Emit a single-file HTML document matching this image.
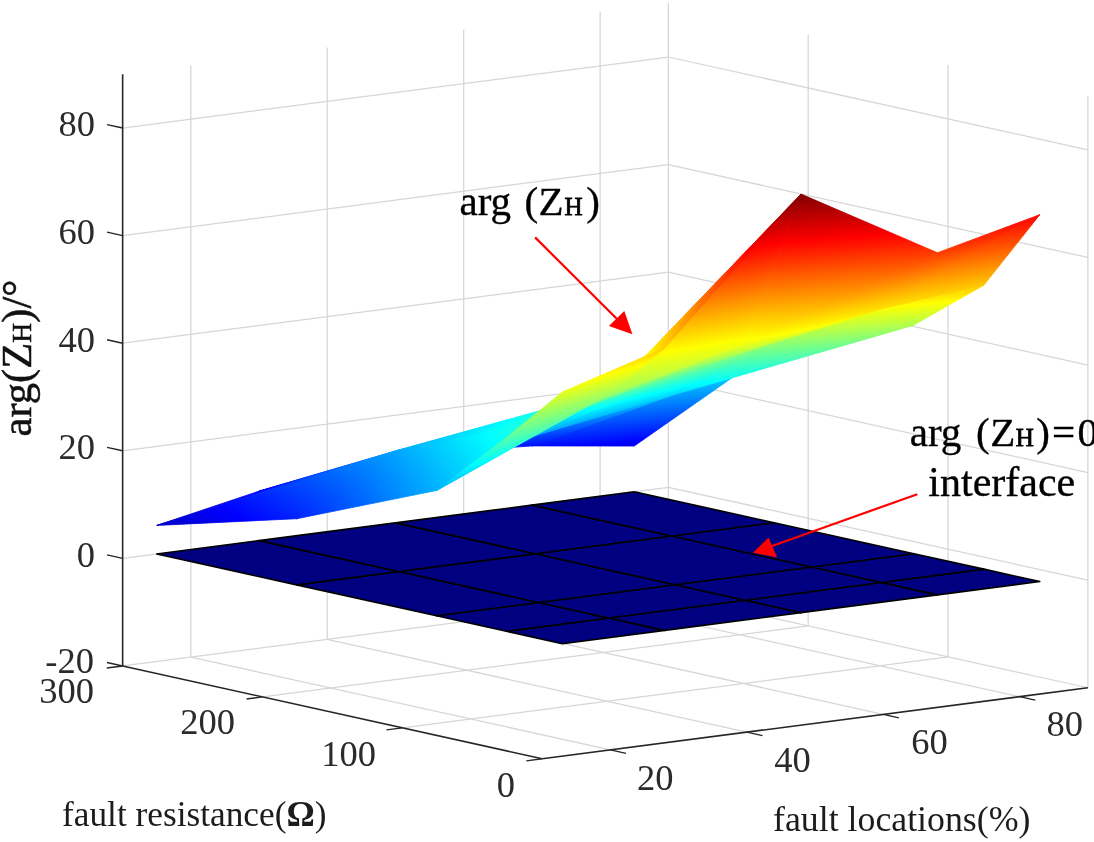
<!DOCTYPE html>
<html><head><meta charset="utf-8"><title>arg(ZH) surface</title>
<style>
html,body{margin:0;padding:0;background:#fff;}
body{width:1094px;height:842px;overflow:hidden;font-family:"Liberation Serif",serif;}
svg{display:block;}
text{font-family:"Liberation Serif",serif;}
</style></head><body>
<svg width="1094" height="842" viewBox="0 0 1094 842">
<rect width="1094" height="842" fill="#fff"/>
<defs><linearGradient id="g1" gradientUnits="userSpaceOnUse" x1="784" y1="463.56" x2="760.17" y2="187.13"><stop offset="0" stop-color="#000080"/><stop offset="0.125" stop-color="#0000ff"/><stop offset="0.375" stop-color="#00ffff"/><stop offset="0.625" stop-color="#ffff00"/><stop offset="0.875" stop-color="#ff0000"/><stop offset="1" stop-color="#800000"/></linearGradient><linearGradient id="g2" gradientUnits="userSpaceOnUse" x1="649.95" y1="357.05" x2="714.72" y2="470.08"><stop offset="0" stop-color="#000080"/><stop offset="0.125" stop-color="#0000ff"/><stop offset="0.375" stop-color="#00ffff"/><stop offset="0.625" stop-color="#ffff00"/><stop offset="0.875" stop-color="#ff0000"/><stop offset="1" stop-color="#800000"/></linearGradient><linearGradient id="g3" gradientUnits="userSpaceOnUse" x1="677.96" y1="458.49" x2="659.54" y2="270.29"><stop offset="0" stop-color="#000080"/><stop offset="0.125" stop-color="#0000ff"/><stop offset="0.375" stop-color="#00ffff"/><stop offset="0.625" stop-color="#ffff00"/><stop offset="0.875" stop-color="#ff0000"/><stop offset="1" stop-color="#800000"/></linearGradient><linearGradient id="g4" gradientUnits="userSpaceOnUse" x1="503.18" y1="359.16" x2="616.92" y2="628.98"><stop offset="0" stop-color="#000080"/><stop offset="0.125" stop-color="#0000ff"/><stop offset="0.375" stop-color="#00ffff"/><stop offset="0.625" stop-color="#ffff00"/><stop offset="0.875" stop-color="#ff0000"/><stop offset="1" stop-color="#800000"/></linearGradient><linearGradient id="g5" gradientUnits="userSpaceOnUse" x1="518.18" y1="382.58" x2="578.88" y2="569.59"><stop offset="0" stop-color="#000080"/><stop offset="0.125" stop-color="#0000ff"/><stop offset="0.375" stop-color="#00ffff"/><stop offset="0.625" stop-color="#ffff00"/><stop offset="0.875" stop-color="#ff0000"/><stop offset="1" stop-color="#800000"/></linearGradient><linearGradient id="g6" gradientUnits="userSpaceOnUse" x1="403.71" y1="491.74" x2="387.22" y2="348.03"><stop offset="0" stop-color="#000080"/><stop offset="0.125" stop-color="#0000ff"/><stop offset="0.375" stop-color="#00ffff"/><stop offset="0.625" stop-color="#ffff00"/><stop offset="0.875" stop-color="#ff0000"/><stop offset="1" stop-color="#800000"/></linearGradient><linearGradient id="g7" gradientUnits="userSpaceOnUse" x1="393.76" y1="435.75" x2="411.52" y2="484.78"><stop offset="0" stop-color="#000080"/><stop offset="0.125" stop-color="#0000ff"/><stop offset="0.375" stop-color="#00ffff"/><stop offset="0.625" stop-color="#ffff00"/><stop offset="0.875" stop-color="#ff0000"/><stop offset="1" stop-color="#800000"/></linearGradient><linearGradient id="g8" gradientUnits="userSpaceOnUse" x1="231.46" y1="633.23" x2="643.53" y2="-91.1"><stop offset="0" stop-color="#000080"/><stop offset="0.125" stop-color="#0000ff"/><stop offset="0.375" stop-color="#00ffff"/><stop offset="0.625" stop-color="#ffff00"/><stop offset="0.875" stop-color="#ff0000"/><stop offset="1" stop-color="#800000"/></linearGradient><linearGradient id="g9" gradientUnits="userSpaceOnUse" x1="486.52" y1="107.3" x2="1268.92" y2="505.93"><stop offset="0" stop-color="#000080"/><stop offset="0.125" stop-color="#0000ff"/><stop offset="0.375" stop-color="#00ffff"/><stop offset="0.625" stop-color="#ffff00"/><stop offset="0.875" stop-color="#ff0000"/><stop offset="1" stop-color="#800000"/></linearGradient><linearGradient id="g10" gradientUnits="userSpaceOnUse" x1="822.86" y1="462.99" x2="803.24" y2="225.92"><stop offset="0" stop-color="#000080"/><stop offset="0.125" stop-color="#0000ff"/><stop offset="0.375" stop-color="#00ffff"/><stop offset="0.625" stop-color="#ffff00"/><stop offset="0.875" stop-color="#ff0000"/><stop offset="1" stop-color="#800000"/></linearGradient><linearGradient id="g11" gradientUnits="userSpaceOnUse" x1="830.58" y1="406.93" x2="797.49" y2="267.65"><stop offset="0" stop-color="#000080"/><stop offset="0.125" stop-color="#0000ff"/><stop offset="0.375" stop-color="#00ffff"/><stop offset="0.625" stop-color="#ffff00"/><stop offset="0.875" stop-color="#ff0000"/><stop offset="1" stop-color="#800000"/></linearGradient><linearGradient id="g12" gradientUnits="userSpaceOnUse" x1="688.23" y1="418.16" x2="662.41" y2="329.47"><stop offset="0" stop-color="#000080"/><stop offset="0.125" stop-color="#0000ff"/><stop offset="0.375" stop-color="#00ffff"/><stop offset="0.625" stop-color="#ffff00"/><stop offset="0.875" stop-color="#ff0000"/><stop offset="1" stop-color="#800000"/></linearGradient><linearGradient id="g13" gradientUnits="userSpaceOnUse" x1="687.25" y1="475.49" x2="663.37" y2="273.3"><stop offset="0" stop-color="#000080"/><stop offset="0.125" stop-color="#0000ff"/><stop offset="0.375" stop-color="#00ffff"/><stop offset="0.625" stop-color="#ffff00"/><stop offset="0.875" stop-color="#ff0000"/><stop offset="1" stop-color="#800000"/></linearGradient><linearGradient id="g14" gradientUnits="userSpaceOnUse" x1="428.49" y1="268.83" x2="688.48" y2="637.02"><stop offset="0" stop-color="#000080"/><stop offset="0.125" stop-color="#0000ff"/><stop offset="0.375" stop-color="#00ffff"/><stop offset="0.625" stop-color="#ffff00"/><stop offset="0.875" stop-color="#ff0000"/><stop offset="1" stop-color="#800000"/></linearGradient><linearGradient id="g15" gradientUnits="userSpaceOnUse" x1="235.31" y1="674.76" x2="950.75" y2="85.94"><stop offset="0" stop-color="#000080"/><stop offset="0.125" stop-color="#0000ff"/><stop offset="0.375" stop-color="#00ffff"/><stop offset="0.625" stop-color="#ffff00"/><stop offset="0.875" stop-color="#ff0000"/><stop offset="1" stop-color="#800000"/></linearGradient><linearGradient id="g16" gradientUnits="userSpaceOnUse" x1="178.36" y1="624" x2="1040.14" y2="178.23"><stop offset="0" stop-color="#000080"/><stop offset="0.125" stop-color="#0000ff"/><stop offset="0.375" stop-color="#00ffff"/><stop offset="0.625" stop-color="#ffff00"/><stop offset="0.875" stop-color="#ff0000"/><stop offset="1" stop-color="#800000"/></linearGradient><linearGradient id="g17" gradientUnits="userSpaceOnUse" x1="998.86" y1="457.25" x2="976.74" y2="203.64"><stop offset="0" stop-color="#000080"/><stop offset="0.125" stop-color="#0000ff"/><stop offset="0.375" stop-color="#00ffff"/><stop offset="0.625" stop-color="#ffff00"/><stop offset="0.875" stop-color="#ff0000"/><stop offset="1" stop-color="#800000"/></linearGradient><linearGradient id="g18" gradientUnits="userSpaceOnUse" x1="886.53" y1="331.23" x2="878.9" y2="296.76"><stop offset="0" stop-color="#000080"/><stop offset="0.125" stop-color="#0000ff"/><stop offset="0.375" stop-color="#00ffff"/><stop offset="0.625" stop-color="#ffff00"/><stop offset="0.875" stop-color="#ff0000"/><stop offset="1" stop-color="#800000"/></linearGradient><linearGradient id="g19" gradientUnits="userSpaceOnUse" x1="855.72" y1="243.58" x2="895.18" y2="343.07"><stop offset="0" stop-color="#000080"/><stop offset="0.125" stop-color="#0000ff"/><stop offset="0.375" stop-color="#00ffff"/><stop offset="0.625" stop-color="#ffff00"/><stop offset="0.875" stop-color="#ff0000"/><stop offset="1" stop-color="#800000"/></linearGradient><linearGradient id="g20" gradientUnits="userSpaceOnUse" x1="762.24" y1="423.1" x2="734.31" y2="293.51"><stop offset="0" stop-color="#000080"/><stop offset="0.125" stop-color="#0000ff"/><stop offset="0.375" stop-color="#00ffff"/><stop offset="0.625" stop-color="#ffff00"/><stop offset="0.875" stop-color="#ff0000"/><stop offset="1" stop-color="#800000"/></linearGradient><linearGradient id="g21" gradientUnits="userSpaceOnUse" x1="754.42" y1="370.24" x2="739.25" y2="326.86"><stop offset="0" stop-color="#000080"/><stop offset="0.125" stop-color="#0000ff"/><stop offset="0.375" stop-color="#00ffff"/><stop offset="0.625" stop-color="#ffff00"/><stop offset="0.875" stop-color="#ff0000"/><stop offset="1" stop-color="#800000"/></linearGradient><linearGradient id="g22" gradientUnits="userSpaceOnUse" x1="619.72" y1="427.53" x2="599.1" y2="365.23"><stop offset="0" stop-color="#000080"/><stop offset="0.125" stop-color="#0000ff"/><stop offset="0.375" stop-color="#00ffff"/><stop offset="0.625" stop-color="#ffff00"/><stop offset="0.875" stop-color="#ff0000"/><stop offset="1" stop-color="#800000"/></linearGradient><linearGradient id="g23" gradientUnits="userSpaceOnUse" x1="466.46" y1="285.86" x2="732.46" y2="488.52"><stop offset="0" stop-color="#000080"/><stop offset="0.125" stop-color="#0000ff"/><stop offset="0.375" stop-color="#00ffff"/><stop offset="0.625" stop-color="#ffff00"/><stop offset="0.875" stop-color="#ff0000"/><stop offset="1" stop-color="#800000"/></linearGradient><linearGradient id="g24" gradientUnits="userSpaceOnUse" x1="530.9" y1="524.67" x2="477.91" y2="336.63"><stop offset="0" stop-color="#000080"/><stop offset="0.125" stop-color="#0000ff"/><stop offset="0.375" stop-color="#00ffff"/><stop offset="0.625" stop-color="#ffff00"/><stop offset="0.875" stop-color="#ff0000"/><stop offset="1" stop-color="#800000"/></linearGradient><linearGradient id="g25" gradientUnits="userSpaceOnUse" x1="1081.34" y1="481.68" x2="1033.94" y2="177.09"><stop offset="0" stop-color="#000080"/><stop offset="0.125" stop-color="#0000ff"/><stop offset="0.375" stop-color="#00ffff"/><stop offset="0.625" stop-color="#ffff00"/><stop offset="0.875" stop-color="#ff0000"/><stop offset="1" stop-color="#800000"/></linearGradient><linearGradient id="g26" gradientUnits="userSpaceOnUse" x1="982.92" y1="462.2" x2="927.33" y2="205.97"><stop offset="0" stop-color="#000080"/><stop offset="0.125" stop-color="#0000ff"/><stop offset="0.375" stop-color="#00ffff"/><stop offset="0.625" stop-color="#ffff00"/><stop offset="0.875" stop-color="#ff0000"/><stop offset="1" stop-color="#800000"/></linearGradient><linearGradient id="g27" gradientUnits="userSpaceOnUse" x1="976" y1="478.45" x2="928.87" y2="202.35"><stop offset="0" stop-color="#000080"/><stop offset="0.125" stop-color="#0000ff"/><stop offset="0.375" stop-color="#00ffff"/><stop offset="0.625" stop-color="#ffff00"/><stop offset="0.875" stop-color="#ff0000"/><stop offset="1" stop-color="#800000"/></linearGradient><linearGradient id="g28" gradientUnits="userSpaceOnUse" x1="828.43" y1="568.02" x2="801.05" y2="194.12"><stop offset="0" stop-color="#000080"/><stop offset="0.125" stop-color="#0000ff"/><stop offset="0.375" stop-color="#00ffff"/><stop offset="0.625" stop-color="#ffff00"/><stop offset="0.875" stop-color="#ff0000"/><stop offset="1" stop-color="#800000"/></linearGradient><linearGradient id="g29" gradientUnits="userSpaceOnUse" x1="858.38" y1="547.89" x2="801.05" y2="194.12"><stop offset="0" stop-color="#000080"/><stop offset="0.125" stop-color="#0000ff"/><stop offset="0.375" stop-color="#00ffff"/><stop offset="0.625" stop-color="#ffff00"/><stop offset="0.875" stop-color="#ff0000"/><stop offset="1" stop-color="#800000"/></linearGradient><linearGradient id="g30" gradientUnits="userSpaceOnUse" x1="431.38" y1="314.97" x2="777.04" y2="363.87"><stop offset="0" stop-color="#000080"/><stop offset="0.125" stop-color="#0000ff"/><stop offset="0.375" stop-color="#00ffff"/><stop offset="0.625" stop-color="#ffff00"/><stop offset="0.875" stop-color="#ff0000"/><stop offset="1" stop-color="#800000"/></linearGradient><linearGradient id="g31" gradientUnits="userSpaceOnUse" x1="702.25" y1="488.6" x2="646.51" y2="280.19"><stop offset="0" stop-color="#000080"/><stop offset="0.125" stop-color="#0000ff"/><stop offset="0.375" stop-color="#00ffff"/><stop offset="0.625" stop-color="#ffff00"/><stop offset="0.875" stop-color="#ff0000"/><stop offset="1" stop-color="#800000"/></linearGradient><linearGradient id="g32" gradientUnits="userSpaceOnUse" x1="595.82" y1="514.78" x2="540.13" y2="310.58"><stop offset="0" stop-color="#000080"/><stop offset="0.125" stop-color="#0000ff"/><stop offset="0.375" stop-color="#00ffff"/><stop offset="0.625" stop-color="#ffff00"/><stop offset="0.875" stop-color="#ff0000"/><stop offset="1" stop-color="#800000"/></linearGradient></defs>
<line x1="190.86" y1="657.07" x2="190.86" y2="65.38" stroke="#d6d6d6" stroke-width="1.25"/>
<line x1="610.41" y1="749.92" x2="190.86" y2="657.07" stroke="#d6d6d6" stroke-width="1.25"/>
<line x1="327.28" y1="639.31" x2="327.28" y2="47.62" stroke="#d6d6d6" stroke-width="1.25"/>
<line x1="746.83" y1="732.16" x2="327.28" y2="639.31" stroke="#d6d6d6" stroke-width="1.25"/>
<line x1="463.7" y1="621.55" x2="463.7" y2="29.86" stroke="#d6d6d6" stroke-width="1.25"/>
<line x1="883.25" y1="714.4" x2="463.7" y2="621.55" stroke="#d6d6d6" stroke-width="1.25"/>
<line x1="600.12" y1="603.79" x2="600.12" y2="12.1" stroke="#d6d6d6" stroke-width="1.25"/>
<line x1="1019.67" y1="696.64" x2="600.12" y2="603.79" stroke="#d6d6d6" stroke-width="1.25"/>
<line x1="948.03" y1="656.81" x2="948.03" y2="65.12" stroke="#d6d6d6" stroke-width="1.25"/>
<line x1="402.35" y1="727.85" x2="948.03" y2="656.81" stroke="#d6d6d6" stroke-width="1.25"/>
<line x1="808.18" y1="625.86" x2="808.18" y2="34.17" stroke="#d6d6d6" stroke-width="1.25"/>
<line x1="262.5" y1="696.9" x2="808.18" y2="625.86" stroke="#d6d6d6" stroke-width="1.25"/>
<line x1="122.65" y1="558.37" x2="668.33" y2="487.33" stroke="#d6d6d6" stroke-width="1.25"/>
<line x1="668.33" y1="487.33" x2="1087.88" y2="580.18" stroke="#d6d6d6" stroke-width="1.25"/>
<line x1="122.65" y1="450.79" x2="668.33" y2="379.75" stroke="#d6d6d6" stroke-width="1.25"/>
<line x1="668.33" y1="379.75" x2="1087.88" y2="472.6" stroke="#d6d6d6" stroke-width="1.25"/>
<line x1="122.65" y1="343.21" x2="668.33" y2="272.17" stroke="#d6d6d6" stroke-width="1.25"/>
<line x1="668.33" y1="272.17" x2="1087.88" y2="365.02" stroke="#d6d6d6" stroke-width="1.25"/>
<line x1="122.65" y1="235.63" x2="668.33" y2="164.59" stroke="#d6d6d6" stroke-width="1.25"/>
<line x1="668.33" y1="164.59" x2="1087.88" y2="257.44" stroke="#d6d6d6" stroke-width="1.25"/>
<line x1="122.65" y1="128.05" x2="668.33" y2="57.01" stroke="#d6d6d6" stroke-width="1.25"/>
<line x1="668.33" y1="57.01" x2="1087.88" y2="149.86" stroke="#d6d6d6" stroke-width="1.25"/>
<line x1="668.33" y1="594.91" x2="668.33" y2="3.22" stroke="#d6d6d6" stroke-width="1.25"/>
<line x1="122.65" y1="665.95" x2="668.33" y2="594.91" stroke="#d6d6d6" stroke-width="1.25"/>
<line x1="668.33" y1="594.91" x2="1087.88" y2="687.76" stroke="#d6d6d6" stroke-width="1.25"/>
<line x1="1087.88" y1="687.76" x2="1087.88" y2="96.07" stroke="#d6d6d6" stroke-width="1.25"/>
<polygon points="562.32,643.68 664.63,630.37 608.7,617.98 506.38,631.3" fill="#000080" stroke="#000" stroke-width="1.6" stroke-linejoin="round"/>
<polygon points="506.38,631.3 608.7,617.98 538.77,602.51 436.46,615.83" fill="#000080" stroke="#000" stroke-width="1.6" stroke-linejoin="round"/>
<polygon points="436.46,615.83 538.77,602.51 398.92,571.56 296.61,584.88" fill="#000080" stroke="#000" stroke-width="1.6" stroke-linejoin="round"/>
<polygon points="296.61,584.88 398.92,571.56 259.07,540.61 156.76,553.93" fill="#000080" stroke="#000" stroke-width="1.6" stroke-linejoin="round"/>
<polygon points="664.63,630.37 801.05,612.61 745.12,600.22 608.7,617.98" fill="#000080" stroke="#000" stroke-width="1.6" stroke-linejoin="round"/>
<polygon points="608.7,617.98 745.12,600.22 675.19,584.75 538.77,602.51" fill="#000080" stroke="#000" stroke-width="1.6" stroke-linejoin="round"/>
<polygon points="538.77,602.51 675.19,584.75 535.34,553.8 398.92,571.56" fill="#000080" stroke="#000" stroke-width="1.6" stroke-linejoin="round"/>
<polygon points="398.92,571.56 535.34,553.8 395.49,522.85 259.07,540.61" fill="#000080" stroke="#000" stroke-width="1.6" stroke-linejoin="round"/>
<polygon points="801.05,612.61 937.48,594.85 881.54,582.46 745.12,600.22" fill="#000080" stroke="#000" stroke-width="1.6" stroke-linejoin="round"/>
<polygon points="745.12,600.22 881.54,582.46 811.61,566.99 675.19,584.75" fill="#000080" stroke="#000" stroke-width="1.6" stroke-linejoin="round"/>
<polygon points="675.19,584.75 811.61,566.99 671.76,536.04 535.34,553.8" fill="#000080" stroke="#000" stroke-width="1.6" stroke-linejoin="round"/>
<polygon points="535.34,553.8 671.76,536.04 531.91,505.09 395.49,522.85" fill="#000080" stroke="#000" stroke-width="1.6" stroke-linejoin="round"/>
<polygon points="937.48,594.85 1039.79,581.52 983.85,569.14 881.54,582.46" fill="#000080" stroke="#000" stroke-width="1.6" stroke-linejoin="round"/>
<polygon points="881.54,582.46 983.85,569.14 913.93,553.67 811.61,566.99" fill="#000080" stroke="#000" stroke-width="1.6" stroke-linejoin="round"/>
<polygon points="811.61,566.99 913.93,553.67 774.08,522.72 671.76,536.04" fill="#000080" stroke="#000" stroke-width="1.6" stroke-linejoin="round"/>
<polygon points="671.76,536.04 774.08,522.72 634.23,491.77 531.91,505.09" fill="#000080" stroke="#000" stroke-width="1.6" stroke-linejoin="round"/>
<polygon points="774.08,348.44 634.23,446.05 531.91,445.92" fill="url(#g1)" stroke="url(#g1)" stroke-width="0.8" stroke-linejoin="round"/>
<polygon points="671.76,395.11 774.08,348.44 531.91,445.92" fill="url(#g2)" stroke="url(#g2)" stroke-width="0.8" stroke-linejoin="round"/>
<polygon points="671.76,395.11 531.91,445.92 395.49,455.61" fill="url(#g3)" stroke="url(#g3)" stroke-width="0.8" stroke-linejoin="round"/>
<polygon points="535.34,435.46 671.76,395.11 395.49,455.61" fill="url(#g4)" stroke="url(#g4)" stroke-width="0.8" stroke-linejoin="round"/>
<polygon points="535.34,435.46 395.49,455.61 259.07,491.12" fill="url(#g5)" stroke="url(#g5)" stroke-width="0.8" stroke-linejoin="round"/>
<polygon points="398.92,449.99 535.34,435.46 259.07,491.12" fill="url(#g6)" stroke="url(#g6)" stroke-width="0.8" stroke-linejoin="round"/>
<polygon points="398.92,449.99 259.07,491.12 156.76,525.42" fill="url(#g7)" stroke="url(#g7)" stroke-width="0.8" stroke-linejoin="round"/>
<polygon points="296.61,518.72 398.92,449.99 156.76,525.42" fill="url(#g8)" stroke="url(#g8)" stroke-width="0.8" stroke-linejoin="round"/>
<polygon points="913.93,325.06 774.08,348.44 671.76,395.11" fill="url(#g9)" stroke="url(#g9)" stroke-width="0.8" stroke-linejoin="round"/>
<polygon points="811.61,327.09 913.93,325.06 671.76,395.11" fill="url(#g10)" stroke="url(#g10)" stroke-width="0.8" stroke-linejoin="round"/>
<polygon points="811.61,327.09 671.76,395.11 535.34,435.46" fill="url(#g11)" stroke="url(#g11)" stroke-width="0.8" stroke-linejoin="round"/>
<polygon points="675.19,373.36 811.61,327.09 535.34,435.46" fill="url(#g12)" stroke="url(#g12)" stroke-width="0.8" stroke-linejoin="round"/>
<polygon points="675.19,373.36 535.34,435.46 398.92,449.99" fill="url(#g13)" stroke="url(#g13)" stroke-width="0.8" stroke-linejoin="round"/>
<polygon points="538.77,425 675.19,373.36 398.92,449.99" fill="url(#g14)" stroke="url(#g14)" stroke-width="0.8" stroke-linejoin="round"/>
<polygon points="538.77,425 398.92,449.99 296.61,518.72" fill="url(#g15)" stroke="url(#g15)" stroke-width="0.8" stroke-linejoin="round"/>
<polygon points="436.46,490.5 538.77,425 296.61,518.72" fill="url(#g16)" stroke="url(#g16)" stroke-width="0.8" stroke-linejoin="round"/>
<polygon points="983.85,285.13 913.93,325.06 811.61,327.09" fill="url(#g17)" stroke="url(#g17)" stroke-width="0.8" stroke-linejoin="round"/>
<polygon points="881.54,308.67 983.85,285.13 811.61,327.09" fill="url(#g18)" stroke="url(#g18)" stroke-width="0.8" stroke-linejoin="round"/>
<polygon points="881.54,308.67 811.61,327.09 675.19,373.36" fill="url(#g19)" stroke="url(#g19)" stroke-width="0.8" stroke-linejoin="round"/>
<polygon points="745.12,343.65 881.54,308.67 675.19,373.36" fill="url(#g20)" stroke="url(#g20)" stroke-width="0.8" stroke-linejoin="round"/>
<polygon points="745.12,343.65 675.19,373.36 538.77,425" fill="url(#g21)" stroke="url(#g21)" stroke-width="0.8" stroke-linejoin="round"/>
<polygon points="608.7,394.22 745.12,343.65 538.77,425" fill="url(#g22)" stroke="url(#g22)" stroke-width="0.8" stroke-linejoin="round"/>
<polygon points="608.7,394.22 538.77,425 436.46,490.5" fill="url(#g23)" stroke="url(#g23)" stroke-width="0.8" stroke-linejoin="round"/>
<polygon points="506.38,437.66 608.7,394.22 436.46,490.5" fill="url(#g24)" stroke="url(#g24)" stroke-width="0.8" stroke-linejoin="round"/>
<polygon points="1039.79,214.68 983.85,285.13 881.54,308.67" fill="url(#g25)" stroke="url(#g25)" stroke-width="0.8" stroke-linejoin="round"/>
<polygon points="937.48,252.74 1039.79,214.68 881.54,308.67" fill="url(#g26)" stroke="url(#g26)" stroke-width="0.8" stroke-linejoin="round"/>
<polygon points="937.48,252.74 881.54,308.67 745.12,343.65" fill="url(#g27)" stroke="url(#g27)" stroke-width="0.8" stroke-linejoin="round"/>
<polygon points="801.05,194.12 937.48,252.74 745.12,343.65" fill="url(#g28)" stroke="url(#g28)" stroke-width="0.8" stroke-linejoin="round"/>
<polygon points="801.05,194.12 745.12,343.65 608.7,394.22" fill="url(#g29)" stroke="url(#g29)" stroke-width="0.8" stroke-linejoin="round"/>
<polygon points="664.63,347.97 801.05,194.12 608.7,394.22" fill="url(#g30)" stroke="url(#g30)" stroke-width="0.8" stroke-linejoin="round"/>
<polygon points="664.63,347.97 608.7,394.22 506.38,437.66" fill="url(#g31)" stroke="url(#g31)" stroke-width="0.8" stroke-linejoin="round"/>
<polygon points="562.32,391.95 664.63,347.97 506.38,437.66" fill="url(#g32)" stroke="url(#g32)" stroke-width="0.8" stroke-linejoin="round"/>
<line x1="122.65" y1="665.95" x2="122.65" y2="74.26" stroke="#262626" stroke-width="1.6" stroke-linecap="butt"/>
<line x1="122.65" y1="665.95" x2="542.2" y2="758.8" stroke="#262626" stroke-width="1.6" stroke-linecap="butt"/>
<line x1="542.2" y1="758.8" x2="1087.88" y2="687.76" stroke="#262626" stroke-width="1.6" stroke-linecap="butt"/>
<line x1="122.65" y1="665.95" x2="107.03" y2="662.49" stroke="#262626" stroke-width="1.4" stroke-linecap="butt"/>
<line x1="122.65" y1="558.37" x2="107.03" y2="554.91" stroke="#262626" stroke-width="1.4" stroke-linecap="butt"/>
<line x1="122.65" y1="450.79" x2="107.03" y2="447.33" stroke="#262626" stroke-width="1.4" stroke-linecap="butt"/>
<line x1="122.65" y1="343.21" x2="107.03" y2="339.75" stroke="#262626" stroke-width="1.4" stroke-linecap="butt"/>
<line x1="122.65" y1="235.63" x2="107.03" y2="232.17" stroke="#262626" stroke-width="1.4" stroke-linecap="butt"/>
<line x1="122.65" y1="128.05" x2="107.03" y2="124.59" stroke="#262626" stroke-width="1.4" stroke-linecap="butt"/>
<line x1="542.2" y1="758.8" x2="526.33" y2="760.87" stroke="#262626" stroke-width="1.4" stroke-linecap="butt"/>
<line x1="402.35" y1="727.85" x2="386.48" y2="729.92" stroke="#262626" stroke-width="1.4" stroke-linecap="butt"/>
<line x1="262.5" y1="696.9" x2="246.63" y2="698.97" stroke="#262626" stroke-width="1.4" stroke-linecap="butt"/>
<line x1="122.65" y1="665.95" x2="106.78" y2="668.02" stroke="#262626" stroke-width="1.4" stroke-linecap="butt"/>
<line x1="610.41" y1="749.92" x2="626.03" y2="753.38" stroke="#262626" stroke-width="1.4" stroke-linecap="butt"/>
<line x1="746.83" y1="732.16" x2="762.45" y2="735.62" stroke="#262626" stroke-width="1.4" stroke-linecap="butt"/>
<line x1="883.25" y1="714.4" x2="898.87" y2="717.86" stroke="#262626" stroke-width="1.4" stroke-linecap="butt"/>
<line x1="1019.67" y1="696.64" x2="1035.29" y2="700.1" stroke="#262626" stroke-width="1.4" stroke-linecap="butt"/>
<g fill="#2b2b2b" font-size="36.5">
<text x="95" y="136.3" text-anchor="end">80</text>
<text x="95" y="244.2" text-anchor="end">60</text>
<text x="95" y="351.8" text-anchor="end">40</text>
<text x="95" y="459.2" text-anchor="end">20</text>
<text x="95" y="566.6" text-anchor="end">0</text>
<text x="94" y="672.8" text-anchor="end">-20</text>
<text x="94" y="703.4" text-anchor="end">300</text>
<text x="235" y="734.2" text-anchor="end">200</text>
<text x="376" y="766.2" text-anchor="end">100</text>
<text x="515" y="796.7" text-anchor="end">0</text>
<text x="655.2" y="789.5" text-anchor="middle">20</text>
<text x="792.4" y="771.6" text-anchor="middle">40</text>
<text x="929.5" y="754.4" text-anchor="middle">60</text>
<text x="1064.8" y="736.1" text-anchor="middle">80</text>
</g>
<g fill="#1c1c1c" font-size="35">
<text x="62" y="825.6" font-size="35.3">fault resistance(<tspan font-weight="bold">Ω</tspan>)</text>
<text x="773" y="831" font-size="35.8">fault locations(%)</text>
</g>
<text transform="translate(31,436.5) rotate(-90)" font-size="42.6" fill="#111" stroke="#111" stroke-width="0.5">arg(Z<tspan font-size="27.5">H</tspan>)/°</text>
<g fill="#000" font-size="41" stroke="#000" stroke-width="0.35">
<text x="459.5" y="215">arg <tspan dx="3">(</tspan><tspan dx="0.5">Z</tspan><tspan font-size="25" dx="1" stroke-width="0.8">H</tspan><tspan dx="3.5">)</tspan></text>
<text x="909.7" y="446.4">arg <tspan dx="4.5">(</tspan><tspan dx="0.5">Z</tspan><tspan font-size="25" dx="0.5" stroke-width="0.8">H</tspan><tspan dx="2.5">)</tspan><tspan dx="2">=</tspan><tspan dx="2.5">0</tspan></text>
<text x="928.3" y="496.2" font-size="42">interface</text>
</g>
<g stroke="#f00" stroke-width="2.2" fill="#f00">
<line x1="535.1" y1="237.4" x2="620" y2="322"/>
<polygon points="632.4,334.2 608.9,326.1 624.3,311.1" stroke="none"/>
<line x1="917.3" y1="494.2" x2="770" y2="546.7"/>
<polygon points="752.9,552.8 768.5,537.5 777.2,557.6" stroke="none"/>
</g>

</svg>
</body></html>
